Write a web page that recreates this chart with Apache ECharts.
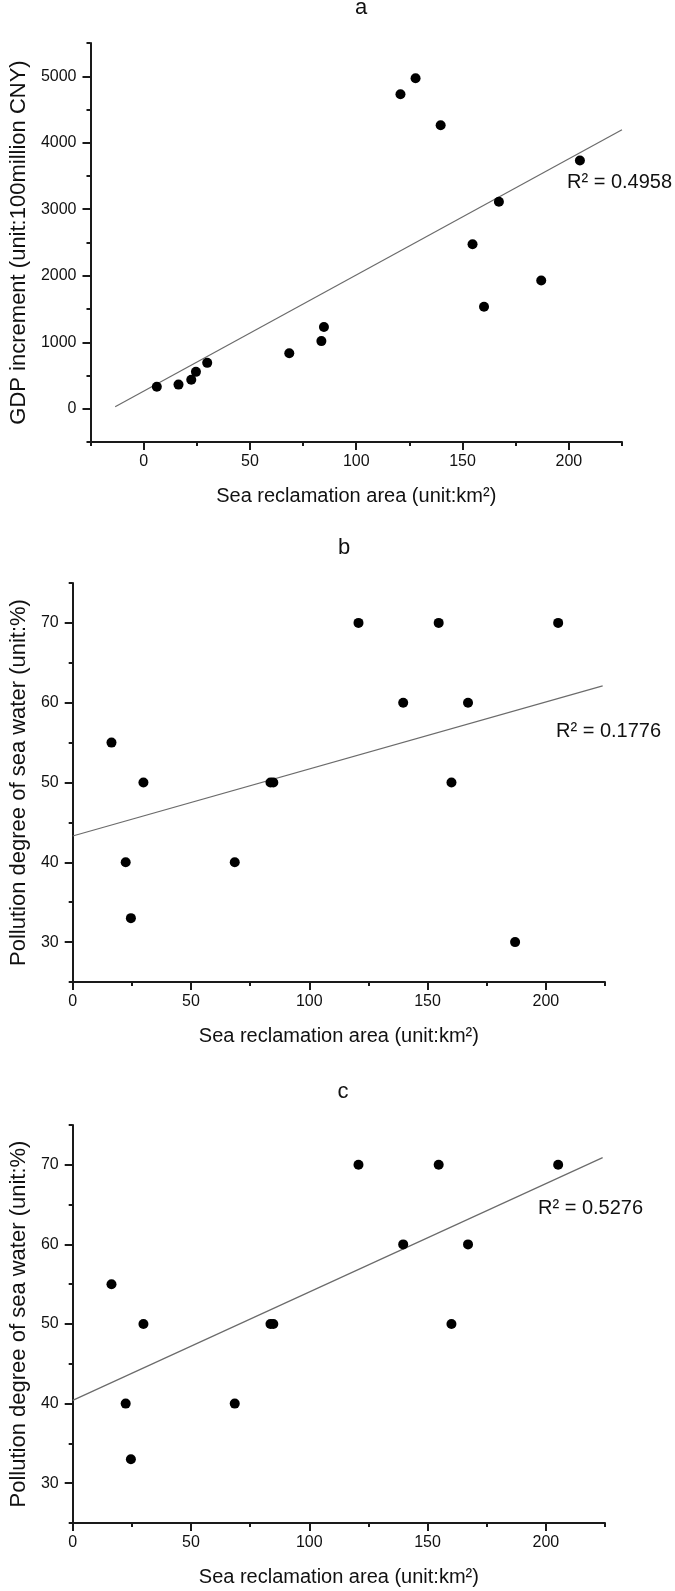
<!DOCTYPE html>
<html>
<head>
<meta charset="utf-8">
<script src="https://cdn.jsdelivr.net/npm/echarts@6/dist/echarts.min.js"></script>
<style>
html,body{margin:0;padding:0;background:#fff;}
#chart{width:675px;height:1591px;}
</style>
</head>
<body>
<div id="chart"></div>
<script>
// ---- data ----
const panelTitles = ['a', 'b', 'c'];
const xName = 'Sea reclamation area (unit:km²)';
const yNameA = 'GDP increment (unit:100million CNY)';
const yNameBC = 'Pollution degree of sea water (unit:%)';

const xTicks = [0, 50, 100, 150, 200];
const yTicksA = [0, 1000, 2000, 3000, 4000, 5000];
const yTicksBC = [30, 40, 50, 60, 70];

const areaA = [6.2, 16.4, 22.4, 24.6, 29.9, 68.5, 83.6, 84.8, 120.8, 127.9, 139.7, 154.7, 160.1, 167.1, 187.0, 205.2];
const gdpA  = [332, 363, 436, 555, 690, 835, 1017, 1229, 4730, 4969, 4264, 2474, 1535, 3112, 1929, 3734];

const areaB = [16.4, 22.4, 24.6, 29.9, 68.5, 83.6, 84.8, 120.8, 139.7, 154.7, 160.1, 167.1, 187.0, 205.2];
const pollB = [55, 40, 33, 50, 40, 50, 50, 70, 60, 70, 50, 60, 30, 70];

const areaC = [16.4, 22.4, 24.6, 29.9, 68.5, 83.6, 84.8, 120.8, 139.7, 154.7, 160.1, 167.1, 205.2];
const pollC = [55, 40, 33, 50, 40, 50, 50, 70, 60, 70, 50, 60, 70];

// fitted trend lines (end points)
const trendAx = [-13.4, 225];
const trendAy = [30, 4195];
const trendBx = [0, 224];
const trendBy = [43.3, 62.1];
const trendCx = [0, 224];
const trendCy = [40.4, 70.9];

const r2Labels = ['R² = 0.4958', 'R² = 0.1776', 'R² = 0.5276'];

// ---- chart ----
const FONT = '"Liberation Sans", Arial, sans-serif';
const AX = '#1a1a1a';

const grids = [
  {left: 82, top: 43, width: 540, height: 399},
  {left: 65, top: 583, width: 540, height: 399},
  {left: 65, top: 1125, width: 540, height: 398}
];
const xRange = [[-25, 225], [0, 225], [0, 225]];
const yRange = [[-500, 5500], [25, 75], [25, 75]];
const yMinor = [500, 5, 5];
const yMajor = [yTicksA, yTicksBC, yTicksBC];
const yNames = [yNameA, yNameBC, yNameBC];
const yGaps = [55, 40, 40];
const plain = v => String(v);

const xAxes = [], yAxes = [];
for (let i = 0; i < 3; i++) {
  xAxes.push({
    type: 'value', gridIndex: i, position: 'bottom', min: xRange[i][0], max: xRange[i][1], interval: 25,
    name: xName, nameLocation: 'middle', nameGap: 44,
    nameTextStyle: {fontSize: 20, color: '#111', fontFamily: FONT},
    axisLine: {show: true, onZero: false, lineStyle: {color: AX, width: 2}},
    axisTick: {show: true, length: 8, lineStyle: {color: AX, width: 2}, customValues: xTicks},
    axisLabel: {show: true, fontSize: 16, color: '#111', fontFamily: FONT, margin: 12, customValues: xTicks, formatter: plain},
    splitLine: {show: false}
  });
  xAxes.push({
    type: 'value', gridIndex: i, position: 'bottom', min: xRange[i][0], max: xRange[i][1], interval: 25,
    axisLine: {show: false, onZero: false},
    axisTick: {show: true, length: 4, lineStyle: {color: AX, width: 2}},
    axisLabel: {show: false}, splitLine: {show: false}
  });
  yAxes.push({
    type: 'value', gridIndex: i, position: 'left', min: yRange[i][0], max: yRange[i][1], interval: yMinor[i],
    name: yNames[i], nameLocation: 'middle', nameGap: yGaps[i], nameRotate: 90,
    nameTextStyle: {fontSize: 22, color: '#111', fontFamily: FONT},
    axisLine: {show: true, onZero: false, lineStyle: {color: AX, width: 2}},
    axisTick: {show: true, length: 8, lineStyle: {color: AX, width: 2}, customValues: yMajor[i]},
    axisLabel: {show: true, fontSize: 16, color: '#111', fontFamily: FONT, margin: 14, customValues: yMajor[i], formatter: plain},
    splitLine: {show: false}
  });
  yAxes.push({
    type: 'value', gridIndex: i, position: 'left', min: yRange[i][0], max: yRange[i][1], interval: yMinor[i],
    axisLine: {show: false, onZero: false},
    axisTick: {show: true, length: 4, lineStyle: {color: AX, width: 2}},
    axisLabel: {show: false}, splitLine: {show: false}
  });
}

function pairs(xs, ys) { return xs.map((x, i) => [x, ys[i]]); }
const scatterData = [pairs(areaA, gdpA), pairs(areaB, pollB), pairs(areaC, pollC)];
const trendData = [pairs(trendAx, trendAy), pairs(trendBx, trendBy), pairs(trendCx, trendCy)];

const series = [];
for (let i = 0; i < 3; i++) {
  series.push({
    type: 'line', xAxisIndex: 2 * i, yAxisIndex: 2 * i, data: trendData[i],
    symbol: 'none', lineStyle: {color: '#6b6b6b', width: 1.2}, silent: true, z: 2
  });
  series.push({
    type: 'scatter', xAxisIndex: 2 * i, yAxisIndex: 2 * i, data: scatterData[i],
    symbol: 'circle', symbolSize: 10, itemStyle: {color: '#000', opacity: 1}, z: 3
  });
}

const titlePos = [[361, 8], [344, 547.5], [343, 1092]];
const r2Pos = [[567, 182], [556, 731], [538, 1208]];
const graphic = [];
for (let i = 0; i < 3; i++) {
  graphic.push({type: 'text', x: titlePos[i][0], y: titlePos[i][1],
    style: {text: panelTitles[i], fontSize: 22, fontFamily: FONT, fill: '#111', align: 'center', verticalAlign: 'middle'}});
  graphic.push({type: 'text', x: r2Pos[i][0], y: r2Pos[i][1],
    style: {text: r2Labels[i], fontSize: 20, fontFamily: FONT, fill: '#111', align: 'left', verticalAlign: 'middle'}});
}

const chart = echarts.init(document.getElementById('chart'), null, {renderer: 'canvas'});
chart.setOption({
  backgroundColor: '#fff',
  animation: false,
  grid: grids,
  xAxis: xAxes,
  yAxis: yAxes,
  series: series,
  graphic: graphic
});
</script>
</body>
</html>
